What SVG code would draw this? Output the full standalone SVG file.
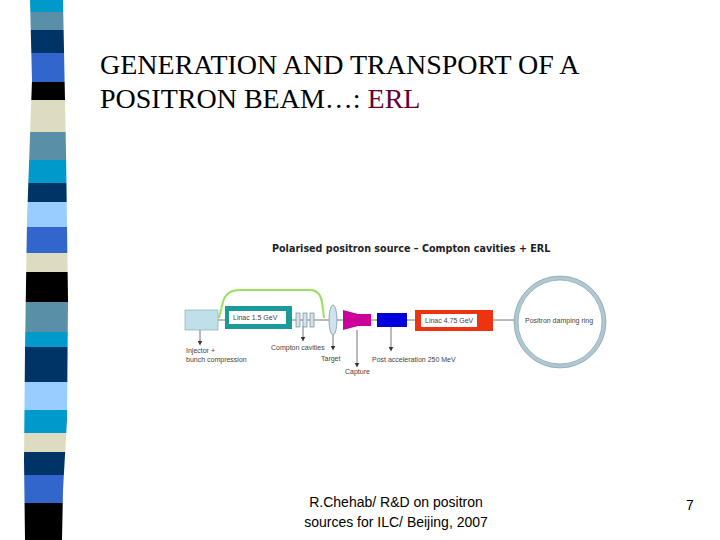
<svg xmlns="http://www.w3.org/2000/svg" width="720" height="540" viewBox="0 0 720 540">
<style>
.t{font-family:"Liberation Serif",serif;font-size:28px;fill:#000}
.s{font-family:"Liberation Sans",Arial,sans-serif;font-size:7px;fill:#444}
.f{font-family:"Liberation Sans",Arial,sans-serif;font-size:14px;fill:#000}
.ln{stroke:#777;stroke-width:1;fill:none}
</style>
<defs>
<marker id="a" markerWidth="5" markerHeight="5" refX="2.5" refY="2.5" orient="auto"><path d="M0,0L5,2.5L0,5z" fill="#333"/></marker>
<clipPath id="bar"><path d="M30,0 L63,0 L66,150 L68,300 L67,420 L63,490 L62,540 L25,540 L24,460 L25,350 L27,220 L32,80 Z"/></clipPath>
</defs>
<rect width="720" height="540" fill="#fff"/>
<g id="stripes" clip-path="url(#bar)">
<rect x="0" y="0" width="80" height="12" fill="#0099cc"/>
<rect x="0" y="12" width="80" height="18" fill="#5a8fa8"/>
<rect x="0" y="30" width="80" height="23" fill="#003366"/>
<rect x="0" y="53" width="80" height="29" fill="#3366cc"/>
<rect x="0" y="82" width="80" height="18" fill="#000"/>
<rect x="0" y="100" width="80" height="32" fill="#dddcc0"/>
<rect x="0" y="132" width="80" height="28" fill="#5a8fa8"/>
<rect x="0" y="160" width="80" height="23" fill="#0099cc"/>
<rect x="0" y="183" width="80" height="19" fill="#003366"/>
<rect x="0" y="202" width="80" height="25" fill="#99ccff"/>
<rect x="0" y="227" width="80" height="26" fill="#3366cc"/>
<rect x="0" y="253" width="80" height="19" fill="#dddcc0"/>
<rect x="0" y="272" width="80" height="30" fill="#000"/>
<rect x="0" y="302" width="80" height="30" fill="#5a8fa8"/>
<rect x="0" y="332" width="80" height="15" fill="#0099cc"/>
<rect x="0" y="347" width="80" height="35" fill="#003366"/>
<rect x="0" y="382" width="80" height="28" fill="#99ccff"/>
<rect x="0" y="410" width="80" height="23" fill="#0099cc"/>
<rect x="0" y="433" width="80" height="19" fill="#dddcc0"/>
<rect x="0" y="452" width="80" height="23" fill="#003366"/>
<rect x="0" y="475" width="80" height="28" fill="#3366cc"/>
<rect x="0" y="503" width="80" height="37" fill="#000"/>
</g>
<g id="title">
<text class="t" x="100" y="74">GENERATION AND TRANSPORT OF A</text>
<text class="t" x="100" y="108">POSITRON BEAM…: <tspan fill="#660033">ERL</tspan></text>
</g>
<text x="272" y="252" font-family="'Comic Sans MS','DejaVu Sans',sans-serif" font-size="9.6" font-weight="bold" fill="#222">Polarised positron source – Compton cavities + ERL</text>
<g id="connectors">
<line class="ln" x1="218" y1="320" x2="560" y2="320"/>
<path d="M219,318 L223,302 Q226,290 240,290 L310,290 Q320,290 322,302 L324,318" stroke="#99e060" stroke-width="2" fill="none"/>
<line class="ln" x1="200" y1="330" x2="200" y2="343" marker-end="url(#a)"/>
<line class="ln" x1="303" y1="326" x2="303" y2="339" marker-end="url(#a)"/>
<line class="ln" x1="333" y1="335" x2="333" y2="348" marker-end="url(#a)"/>
<line class="ln" x1="357" y1="330" x2="357" y2="365" marker-end="url(#a)"/>
<line class="ln" x1="391" y1="327" x2="391" y2="349" marker-end="url(#a)"/>
</g>
<g id="injector"><rect x="185" y="310" width="33" height="20" fill="#bfe0e8" stroke="#8ab" stroke-width="0.7"/>
<text class="s" x="186" y="353">Injector +</text><text class="s" x="186" y="362">bunch compression</text></g>
<g id="linac1"><rect x="225" y="306" width="67" height="23" fill="#1a9a9a"/><rect x="229" y="311" width="57" height="13" fill="#fff"/>
<text class="s" x="233" y="320">Linac 1.5 GeV</text></g>
<g id="compton" fill="#cfe4ea" stroke="#789" stroke-width="0.7">
<rect x="296" y="313" width="4" height="14"/><rect x="303" y="313" width="4" height="14"/><rect x="310" y="313" width="4" height="14"/>
<text class="s" x="271" y="350" stroke="none">Compton cavities</text></g>
<g id="target"><ellipse cx="333" cy="320" rx="4" ry="15" fill="#cfe4ea" stroke="#789" stroke-width="0.7"/>
<text class="s" x="321" y="361">Target</text></g>
<g id="capture"><path d="M343,310 L358,314 L358,326 L343,330Z" fill="#cc0099"/><rect x="358" y="314" width="13" height="12" fill="#cc0099"/>
<text class="s" x="345" y="374">Capture</text></g>
<g id="postacc"><rect x="377" y="313" width="30" height="14" fill="#0000dd"/>
<text class="s" x="372" y="362">Post acceleration 250 MeV</text></g>
<g id="linac2"><rect x="415" y="310" width="78" height="21" fill="#ee3311"/><rect x="421" y="314" width="56" height="13" fill="#fff"/>
<text class="s" x="425" y="323">Linac 4.75 GeV</text></g>
<g id="ring"><circle cx="560" cy="322" r="44" fill="#fff" stroke="#b0c8d0" stroke-width="4"/><circle cx="560" cy="322" r="46" fill="none" stroke="#7a9aa8" stroke-width="0.6"/><circle cx="560" cy="322" r="42" fill="none" stroke="#7a9aa8" stroke-width="0.6"/>
<text class="s" x="525" y="323">Positron damping ring</text></g>
<g id="footer">
<text class="f" x="396" y="507" text-anchor="middle">R.Chehab/ R&amp;D on positron</text>
<text class="f" x="396" y="527" text-anchor="middle">sources for ILC/ Beijing, 2007</text>
<text class="f" x="686" y="510">7</text>
</g>
</svg>
